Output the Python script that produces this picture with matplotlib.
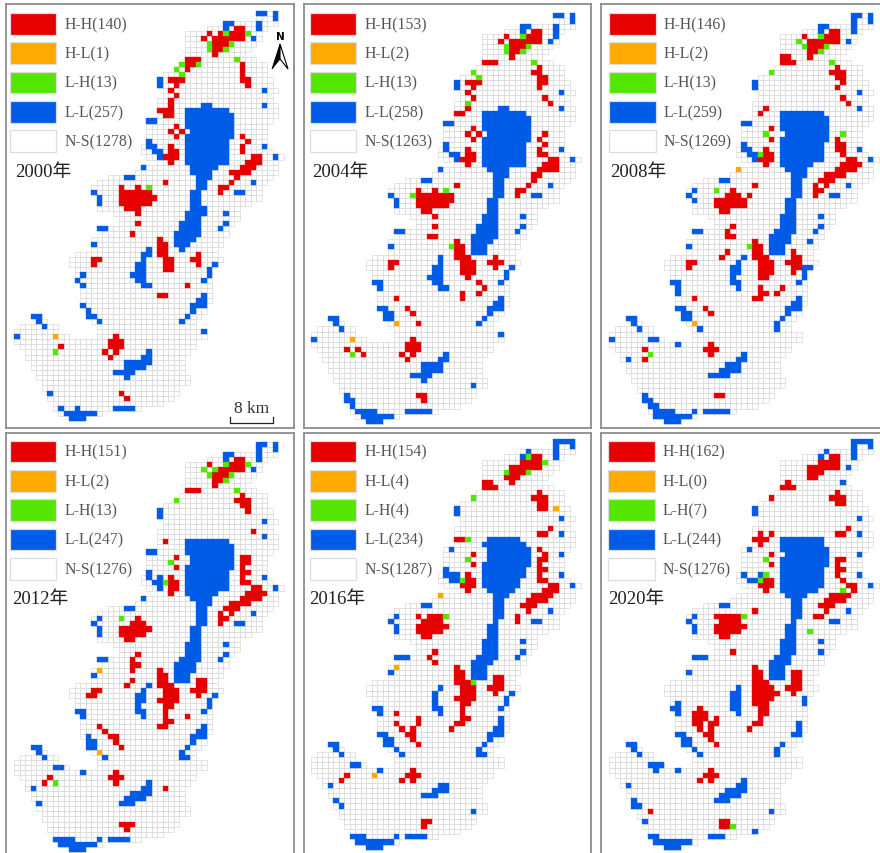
import matplotlib
matplotlib.use("Agg")
import matplotlib.pyplot as plt
from matplotlib.collections import PolyCollection
from matplotlib.patches import Rectangle, Polygon

# ---------- data: grid cells as (row, first column, last column) ----------
MASK = [(0,44,47),(1,44,47),(2,38,47),(3,35,45),(4,31,44),(5,31,44),(6,31,43),(7,31,42),(8,31,41),(9,31,43),
(10,30,45),(11,29,45),(12,27,45),(13,26,46),(14,26,46),(15,27,47),(16,27,46),(17,26,46),(18,26,47),(19,26,47),
(20,26,47),(21,24,46),(22,24,45),(23,24,45),(24,24,45),(25,24,45),(26,23,45),(27,23,46),(28,24,48),(29,26,47),
(30,23,47),(31,22,47),(32,17,46),(33,15,45),(34,14,44),(35,14,44),(36,15,44),(37,15,42),(38,15,40),(39,18,40),
(40,19,40),(41,19,39),(42,15,38),(43,16,38),(44,14,37),(45,14,37),(46,14,36),(47,11,36),(48,10,37),(49,10,36),
(50,11,35),(51,11,35),(52,11,35),(53,12,35),(54,12,35),(55,12,35),(56,12,35),(57,12,34),(58,13,34),(59,3,4),(59,13,33),
(60,4,5),(60,14,32),(61,1,7),(61,15,32),(62,0,7),(62,15,34),(63,0,9),(63,15,34),(64,0,32),(65,1,32),(66,2,31),
(67,2,30),(68,3,30),(69,3,30),(70,4,30),(71,4,31),(72,5,31),(73,5,29),(74,6,29),(75,6,28),(76,7,26),(77,7,22),
(78,8,15),(79,10,12)]

HH_2000 = [(3,40,41),(4,35,35),(4,37,37),(4,39,41),(5,34,34),(5,36,41),(6,36,38),(7,36,37),(8,36,36),(9,31,33),(10,31,32),(11,31,31),
(13,28,30),(14,29,29),(15,28,28),(16,29,29),(17,28,28),(18,28,28),(19,26,28),(20,27,28),(22,29,29),(23,28,28),(23,30,30),(24,29,29),
(26,28,28),(27,28,29),(28,27,29),(29,28,28),(10,41,41),(11,41,41),(12,41,41),(13,41,42),(14,42,42),(24,41,41),(25,42,42),(26,41,41),(27,41,41),
(28,43,44),(29,42,44),(30,41,43),(31,39,42),(32,40,40),(33,39,39),(34,37,38),(35,37,37),(33,27,27),
(34,19,19),(34,22,22),(35,19,24),(36,19,25),(37,19,24),(38,20,22),(39,22,22),(41,22,22),(43,21,21),
(44,26,26),(45,26,27),(46,26,27),(47,26,27),(48,27,28),(49,27,28),(50,27,28),(47,33,33),(48,32,33),(49,33,33),(48,14,15),(49,14,14),
(53,31,31),(55,26,27),(63,18,18),(64,17,19),(65,17,19),(66,16,16),(66,18,18),(67,17,17),(65,8,8),(74,19,19),(75,20,20)]
HL_2000 = [(63,7,7)]
LH_2000 = [(4,38,38),(4,42,42),(6,39,39),(7,38,38),(6,35,35),(7,35,35),(9,40,40),(10,30,30),(10,33,33),(11,29,29),(12,30,30),(34,24,24),(66,7,7)]
LL_2000 = [(0,44,45),(0,47,47),(1,47,47),(2,44,44),(3,44,44),(2,38,39),(3,38,38),(5,43,43),(13,26,26),(14,26,26),(15,45,45),(18,45,45),(21,24,25),
(18,34,35),(19,31,38),(20,31,39),(21,31,39),(22,31,39),(23,32,39),(24,31,39),(25,31,38),(26,31,38),(27,31,38),(28,31,38),(29,31,38),(30,32,36),(31,32,35),
(32,33,35),(33,33,34),(34,33,34),(35,32,33),(36,32,33),(37,32,33),(38,32,34),(39,31,34),(40,31,33),(41,30,33),(42,30,33),(43,29,33),(44,29,32),(45,29,31),(46,30,30),
(25,24,24),(26,24,25),(27,25,26),(28,26,26),(30,23,23),(32,20,21),(35,14,14),(36,15,15),(37,15,15),(35,40,41),(33,43,43),(28,47,47),(26,45,45),(39,38,38),(41,38,38),(42,37,37),
(42,15,16),(45,14,14),(46,24,24),(47,23,24),(48,23,23),(49,22,23),(50,22,23),(51,21,23),(52,22,23),(53,23,24),(49,36,36),(50,35,35),(51,35,35),(52,34,34),
(55,34,34),(56,33,34),(57,32,34),(58,32,32),(59,31,31),(60,30,30),(62,34,34),(51,12,12),(52,11,11),(53,12,12),(57,12,12),(58,13,13),(59,13,14),(60,15,15),
(59,3,4),(60,4,4),(61,5,5),(63,0,0),(66,24,24),(67,23,24),(68,20,24),(69,20,23),(70,18,21),(71,20,20),(74,6,6),(77,8,8),(77,11,11),(78,9,14),(79,10,12),(77,18,21)]

HH_2004 = [(3,40,41),(4,35,35),(4,39,41),(5,34,34),(5,36,41),(6,36,38),(7,36,37),(8,36,36),(9,31,33),(13,28,30),(14,29,29),(15,28,28),(16,29,29),(18,28,28),(19,26,27),
(22,29,29),(23,28,28),(23,30,30),(24,29,29),(26,28,28),(27,28,29),(28,27,29),(29,28,28),(10,41,41),(11,40,41),(12,41,42),(13,41,42),(14,41,41),(16,42,42),(17,43,43),
(23,42,42),(24,41,41),(25,42,42),(26,41,41),(27,41,42),(28,43,44),(29,42,44),(30,41,44),(31,40,41),(32,40,40),(33,39,39),(34,37,38),(35,37,37),(33,26,26),
(34,19,19),(34,22,22),(35,19,25),(36,19,25),(37,19,24),(38,20,21),(39,22,22),(41,22,22),(43,21,22),(44,26,26),(45,26,27),(46,26,27),(47,26,28),(48,27,29),(49,27,29),(50,27,29),(51,28,28),
(47,33,33),(48,32,34),(49,33,33),(48,14,15),(49,14,14),(52,30,30),(53,31,31),(54,30,30),(54,27,27),(55,27,27),(55,15,15),(57,17,17),(58,18,18),(60,19,19),
(63,18,18),(64,17,19),(65,17,19),(66,16,16),(66,18,18),(67,17,17),(65,6,6),(65,8,8),(66,9,9),(74,19,20),(75,20,20)]
HL_2004 = [(60,15,15),(63,7,7)]
LH_2004 = [(4,38,38),(6,39,39),(7,38,38),(6,35,35),(7,35,35),(9,40,40),(11,29,29),(12,30,30),(17,28,28),(35,18,18),(34,24,24),(45,25,25),(66,7,7)]
LL_2004 = [(0,44,45),(0,47,47),(1,47,47),(2,44,44),(3,44,44),(4,44,44),(5,43,43),(2,38,39),(3,38,38),(13,26,26),(14,26,26),(15,45,45),(18,45,45),(21,24,25),
(18,34,35),(19,31,38),(20,31,39),(21,31,39),(22,31,39),(23,32,39),(24,31,39),(25,31,38),(26,31,38),(27,31,38),(28,31,38),(29,31,38),(30,32,35),(31,33,35),(32,33,34),(33,33,34),(34,33,34),(35,33,34),
(36,32,33),(37,32,33),(38,32,33),(39,31,33),(40,31,33),(41,30,33),(42,30,33),(43,29,33),(44,29,32),(45,29,31),(46,29,31),
(25,24,24),(26,24,24),(27,25,26),(28,26,26),(30,23,23),(32,20,21),(35,14,14),(36,15,15),(37,15,15),(35,40,41),(33,43,43),(28,47,47),(26,45,45),(39,38,38),(41,38,38),(42,37,37),
(42,15,16),(45,14,14),(47,23,23),(48,23,23),(49,22,23),(50,22,23),(51,21,23),(52,22,23),(53,23,24),(49,36,36),(50,35,35),(51,35,35),(52,34,34),
(55,34,34),(56,33,34),(57,32,34),(58,32,32),(59,31,31),(60,30,30),(62,34,34),(52,11,12),(53,12,12),(57,12,13),(58,13,14),(59,13,14),
(59,3,4),(60,4,4),(61,5,5),(63,0,0),(66,24,24),(67,23,24),(68,20,23),(69,20,23),(70,18,21),(71,20,20),(72,29,29),(74,6,6),(75,6,7),(76,7,7),(77,8,11),(78,9,14),(79,10,12),(77,17,21)]

HH_2008 = [(3,40,41),(4,35,35),(4,39,41),(5,36,41),(6,36,38),(7,36,37),(8,36,36),(8,31,32),(9,31,33),(10,41,41),(11,40,42),(12,41,42),(13,42,42),(14,41,41),(16,42,42),(17,43,43),
(18,28,28),(19,27,27),(22,29,29),(24,29,29),(26,28,28),(27,28,29),(28,27,29),(29,28,28),(24,41,41),(25,41,42),(26,41,42),(27,42,42),(28,43,44),(29,42,45),(30,41,44),(31,39,42),(32,38,40),(33,39,39),(33,37,37),(34,37,38),(35,37,37),
(33,26,26),(35,25,25),(34,22,22),(35,21,23),(36,19,24),(37,19,24),(38,20,21),(41,22,22),(42,21,21),(43,21,22),
(44,26,26),(45,26,27),(46,26,27),(47,26,28),(48,27,29),(49,27,29),(50,27,29),(51,27,28),(46,33,33),(47,33,34),(48,32,34),(49,33,34),(50,33,33),
(46,21,21),(47,20,20),(48,14,15),(49,14,14),(55,15,15),(57,17,17),(58,18,18),(53,27,27),(54,27,28),(55,26,27),(53,31,31),(54,30,30),(65,6,6),(67,6,6),(64,18,18),(65,17,19),(66,18,18),(74,19,20)]
HL_2008 = [(60,15,15),(30,23,23)]
LH_2008 = [(4,38,38),(5,34,34),(6,35,35),(6,39,39),(7,38,38),(9,40,40),(11,29,29),(23,28,28),(23,42,42),(27,27,27),(34,19,19),(45,25,25),(66,7,7)]
LL_2008 = [(0,44,45),(0,47,47),(1,47,47),(1,44,44),(2,44,44),(3,44,44),(2,38,39),(3,38,38),(5,43,43),(13,26,26),(14,26,26),(15,45,45),(18,45,45),(21,24,25),
(19,31,38),(20,31,39),(21,31,39),(22,31,39),(23,32,39),(24,31,39),(25,31,38),(26,31,38),(27,31,38),(28,31,38),(29,31,36),(30,32,35),(31,33,35),(32,33,34),(33,33,34),(34,33,34),(35,33,34),
(36,32,33),(37,32,33),(38,32,33),(39,31,33),(40,31,33),(41,31,33),(42,30,33),(43,29,32),(44,29,32),(45,29,31),(46,29,31),
(25,24,24),(26,24,25),(27,25,26),(28,26,26),(32,20,21),(34,15,15),(35,14,14),(36,15,15),(35,40,41),(33,43,43),(28,47,47),(26,45,45),(39,38,38),(41,38,38),(42,37,37),(44,36,36),
(42,15,16),(45,14,14),(47,24,24),(48,23,23),(49,22,23),(50,22,23),(51,22,22),(52,22,23),(53,23,23),(49,35,36),(50,35,35),(51,35,35),(52,34,34),
(55,34,34),(56,33,34),(57,32,34),(58,32,32),(59,31,31),(60,30,30),(61,30,30),(52,11,12),(53,12,12),(54,12,12),(57,12,13),(58,13,14),(59,13,14),(61,16,16),
(59,3,4),(60,4,4),(61,5,5),(63,0,0),(63,7,8),(64,12,12),(67,3,3),(66,24,24),(67,23,24),(68,21,23),(69,20,23),(70,18,21),(74,6,6),(75,6,7),(76,7,8),(77,8,11),(77,15,15),(78,8,14),(79,10,12),(77,17,21)]

HH_2012 = [(3,40,41),(4,35,35),(4,39,41),(5,37,41),(6,36,38),(7,36,37),(8,36,36),(9,31,33),(10,41,41),(11,40,42),(12,41,42),(13,42,42),(17,43,43),(19,27,27),(22,29,29),(24,29,29),
(26,28,28),(27,28,29),(28,28,29),(29,28,28),(22,41,42),(23,41,42),(24,41,41),(25,41,42),(26,41,41),(27,41,42),(28,43,44),(29,42,45),(30,41,44),(31,39,42),(32,38,40),(33,39,39),(33,37,37),(34,37,38),(35,37,37),
(34,22,22),(35,21,23),(36,19,24),(37,19,23),(38,20,21),(41,22,22),(42,21,21),(43,21,22),(44,21,21),(44,26,26),(45,26,27),(46,26,27),(47,26,28),(48,27,29),(49,27,29),(50,26,29),(51,27,28),(52,27,27),(53,27,27),(54,27,28),(55,26,27),
(46,33,34),(47,33,34),(48,32,34),(49,33,33),(48,14,15),(49,13,14),(46,21,21),(47,20,20),(53,31,31),(55,15,15),(56,16,16),(57,17,18),(58,18,18),(59,19,19),(65,6,6),(66,5,5),
(64,18,18),(65,17,19),(66,18,18),(67,27,27),(74,19,21),(75,20,20)]
HL_2012 = [(44,15,15),(60,15,15)]
LH_2012 = [(5,36,36),(5,34,34),(6,35,35),(6,39,39),(7,38,38),(4,38,38),(4,42,42),(9,40,40),(11,29,29),(23,28,28),(27,27,27),(34,19,19),(66,7,7)]
LL_2012 = [(0,44,45),(0,47,47),(1,47,47),(1,44,44),(2,44,44),(3,44,44),(2,38,39),(3,38,38),(5,43,43),(13,26,26),(14,26,26),(15,45,45),(18,45,45),(21,24,25),
(19,31,38),(20,31,39),(21,31,39),(22,32,39),(23,32,39),(24,31,39),(25,31,38),(26,31,38),(27,31,38),(28,31,38),(29,31,36),(30,32,35),(31,33,35),(32,33,34),(33,33,34),(34,33,34),(35,33,34),
(36,32,33),(37,32,33),(38,32,33),(39,31,33),(40,31,33),(41,31,33),(42,30,33),(43,29,32),(44,29,32),(45,29,31),(46,29,31),
(25,24,24),(26,24,24),(26,26,26),(27,25,26),(28,26,26),(30,23,23),(32,20,21),(34,15,15),(35,14,14),(36,15,15),(37,15,15),(35,40,41),(33,43,43),(28,47,47),(26,45,45),(39,38,38),(41,38,38),(42,37,37),
(42,15,16),(45,14,14),(47,24,24),(48,23,23),(49,22,23),(50,22,23),(51,22,22),(52,22,23),(53,23,23),(49,36,36),(50,35,35),(51,35,35),(52,34,34),
(55,34,34),(56,33,34),(57,32,34),(58,32,32),(59,31,31),(60,30,30),(61,30,31),(52,11,12),(53,12,12),(57,13,13),(58,13,14),(59,13,14),(61,16,16),
(59,3,4),(60,4,4),(61,5,5),(63,7,8),(64,12,12),(67,3,3),(70,4,4),(66,24,24),(67,23,24),(68,21,24),(69,20,23),(70,19,21),(77,7,10),(77,15,15),(78,8,14),(79,10,12),(77,17,20)]

HH_2016 = [(3,40,41),(4,38,41),(5,36,41),(6,36,38),(7,35,37),(8,36,36),(8,31,32),(9,31,33),(10,41,41),(11,40,42),(12,41,42),(13,41,42),(17,43,43),(18,41,42),(19,26,27),
(21,41,41),(22,42,42),(23,41,42),(24,41,41),(25,41,42),(26,41,41),(27,41,42),(22,29,29),(24,29,29),(26,28,28),(27,28,29),(28,27,29),(29,28,28),
(28,43,44),(29,42,44),(30,40,43),(31,39,42),(32,38,40),(33,39,39),(34,37,37),(35,37,37),(34,19,19),(34,21,23),(35,20,23),(36,19,24),(37,19,23),(38,20,21),
(41,22,22),(42,21,21),(43,22,22),(44,26,26),(45,26,27),(46,26,27),(47,26,28),(48,27,29),(49,27,29),(50,26,29),(51,27,28),(52,27,27),(53,27,27),(54,27,28),(55,26,27),(56,25,25),
(46,33,34),(47,33,34),(48,32,34),(49,33,33),(53,15,15),(55,15,15),(56,16,16),(57,17,18),(58,18,18),(59,19,19),(54,19,19),(55,19,19),(56,18,18),(65,6,6),(66,5,5),
(64,18,18),(65,17,19),(66,16,16),(66,18,18),(74,20,21),(75,20,20)]
HL_2016 = [(13,44,44),(30,23,23),(44,15,15),(65,11,11)]
LH_2016 = [(3,39,39),(4,42,42),(6,35,35),(6,39,39),(11,29,29),(19,28,28),(23,28,28),(27,27,27),(34,24,24),(47,29,29)]
LL_2016 = [(0,44,47),(1,44,44),(2,44,44),(3,44,44),(1,47,47),(2,39,39),(3,38,38),(13,26,26),(14,26,26),(15,45,45),(18,45,45),(22,45,45),(26,45,45),(28,47,47),(21,25,25),
(19,32,37),(20,31,38),(21,32,39),(22,32,39),(23,32,39),(24,31,39),(25,31,38),(26,31,38),(27,31,37),(28,31,37),(29,32,36),(30,33,35),(31,33,34),(32,33,34),(33,33,34),(34,33,34),(35,33,33),
(36,32,33),(37,32,33),(38,32,33),(39,31,33),(40,31,33),(41,31,33),(42,30,33),(43,29,32),(44,29,31),(45,29,31),(46,29,31),
(25,24,24),(26,24,26),(27,25,26),(32,20,21),(34,15,15),(35,14,14),(36,15,15),(37,15,15),(35,40,41),(33,43,43),(39,38,38),(41,38,38),(42,37,37),
(42,15,17),(45,14,14),(48,23,23),(49,22,22),(50,22,22),(51,22,22),(52,22,23),(53,23,23),(49,36,36),(50,35,35),(51,35,35),(52,34,34),
(54,34,34),(55,34,34),(56,33,34),(57,33,34),(57,32,32),(58,32,32),(59,31,31),(60,30,30),(61,30,31),(52,11,12),(53,12,12),(57,12,13),(58,13,14),(59,13,14),(60,15,15),(61,16,16),
(59,3,4),(60,4,4),(61,5,5),(63,7,8),(64,12,12),(67,3,3),(70,4,4),(71,5,5),(67,23,24),(68,22,24),(69,20,22),(72,29,29),(77,7,9),(77,15,15),(78,8,14),(79,10,12),(77,17,20)]

HH_2020 = [(3,40,41),(4,38,41),(5,36,41),(6,36,38),(7,36,37),(8,32,32),(9,31,33),(11,29,29),(10,41,41),(11,40,42),(12,41,42),(17,43,43),(18,41,42),(18,29,29),(18,27,27),(19,26,28),(20,27,27),(22,29,29),(24,29,29),
(23,41,42),(24,41,41),(25,41,42),(26,41,41),(27,42,42),(28,43,44),(29,44,44),(27,28,29),(28,27,29),(29,28,28),(30,40,43),(31,39,42),(32,38,40),(33,39,39),(34,37,38),(33,26,26),
(34,19,23),(35,20,23),(36,19,24),(37,19,23),(38,20,21),(41,22,22),(44,26,26),(45,26,27),(46,26,27),(47,26,28),(48,26,29),(49,26,30),(50,26,29),(51,26,28),(52,27,28),(53,27,28),(54,27,27),(55,26,27),(56,25,25),
(45,33,34),(46,33,34),(47,33,34),(48,32,34),(49,33,33),(52,16,16),(53,15,17),(54,15,17),(55,15,16),(56,16,16),(54,19,19),(55,18,19),(56,18,18),(57,17,18),(58,18,18),(59,19,19),
(64,18,18),(65,17,19),(66,16,16),(66,18,18),(72,7,7),(74,20,21),(75,20,21)]
HL_2020 = []
LH_2020 = [(29,42,42),(26,28,28),(27,27,27),(23,28,28),(34,24,24),(37,36,36),(75,22,22)]
LL_2020 = [(0,44,47),(1,44,44),(2,44,44),(3,44,44),(1,47,47),(2,39,39),(3,38,38),(5,43,43),(8,42,42),(13,26,26),(14,26,26),(15,45,45),(18,45,45),(22,45,45),(26,45,45),(28,47,47),(21,25,25),
(19,31,38),(20,31,38),(21,31,39),(22,32,39),(23,31,39),(24,31,39),(25,31,38),(26,31,38),(27,31,38),(28,31,38),(29,31,37),(30,32,35),(31,33,34),(32,33,34),(33,33,34),(34,33,34),(35,33,33),
(36,32,33),(37,32,33),(38,32,33),(39,31,33),(40,31,33),(41,31,33),(42,30,32),(43,29,32),(44,29,31),(45,29,31),(46,29,31),
(26,24,24),(26,27,27),(27,25,26),(32,20,21),(34,15,15),(35,14,14),(36,15,15),(37,15,15),(35,40,41),(33,43,43),(39,38,38),(41,38,38),
(42,15,17),(45,14,14),(48,23,23),(49,22,23),(50,22,23),(51,22,23),(52,22,23),(53,23,23),(50,35,35),(51,35,35),(55,34,34),(56,34,34),(57,33,34),(59,31,31),(60,30,30),(61,30,30),
(51,12,12),(52,11,12),(53,12,12),(57,12,13),(58,13,14),(59,13,14),(60,15,15),(61,16,16),(59,3,4),(60,4,4),(61,5,5),(63,7,9),(64,8,8),(64,12,12),(67,3,3),(70,4,4),(71,4,5),(74,6,6),(76,26,26),
(66,24,24),(67,23,24),(68,21,24),(69,20,23),(70,19,21),(72,29,29),(77,7,8),(78,8,14),(79,10,12),(77,18,20)]

YEARS = ["2000", "2004", "2008", "2012", "2016", "2020"]
HH = [HH_2000, HH_2004, HH_2008, HH_2012, HH_2016, HH_2020]
HL = [HL_2000, HL_2004, HL_2008, HL_2012, HL_2016, HL_2020]
LH = [LH_2000, LH_2004, LH_2008, LH_2012, LH_2016, LH_2020]
LL = [LL_2000, LL_2004, LL_2008, LL_2012, LL_2016, LL_2020]
CLASS_NAMES = ["H-H", "H-L", "L-H", "L-L", "N-S"]
COUNTS = [[140, 1, 13, 257, 1278], [153, 2, 13, 258, 1263], [146, 2, 13, 259, 1269],
          [151, 2, 13, 247, 1276], [154, 4, 4, 234, 1287], [162, 0, 7, 244, 1276]]

# ---------- styles / layout (pixels) ----------
W, H = 880, 854
COLORS = {"HH": "#E60000", "HL": "#FFAA00", "LH": "#55E600", "LL": "#005CE6"}
GRID = "#d4d4d4"
CW, CH = 5.5, 5.133
FRAMES = [(6, 5, 294, 429), (303.5, 5, 590.5, 429), (600.5, 5, 890, 429),
          (6, 434, 294, 864), (303.5, 434, 590.5, 864), (600.5, 434, 890, 864)]
ORIGIN = [(14.33, 11.67), (311.33, 14.33), (609, 14.33), (14.33, 442.67), (311.33, 440), (609, 440)]
LEG = [(9.7, 14), (309.7, 14), (609, 14), (9.7, 441.7), (309.7, 441.7), (608, 441.7)]
YEARPOS = [(15, 172), (312, 172), (610.5, 172), (12.5, 600), (309.5, 600), (608, 600)]
SERIF = ["Liberation Serif", "Noto Sans CJK SC"]

fig = plt.figure(figsize=(W / 100, H / 100), dpi=100, facecolor="white")


def cells(runs):
    out = []
    for r, a, b in runs:
        out.extend((r, c) for c in range(a, b + 1))
    return out


def polys(cs):
    return [[(c, r), (c + 1, r), (c + 1, r + 1), (c, r + 1)] for r, c in cs]


for i in range(6):
    x0, y0, x1, y1 = FRAMES[i]
    ox, oy = ORIGIN[i]
    ax = fig.add_axes([x0 / W, 1 - y1 / H, (x1 - x0) / W, (y1 - y0) / H])
    ax.set_xlim((x0 - ox) / CW, (x1 - ox) / CW)
    ax.set_ylim((y1 - oy) / CH, (y0 - oy) / CH)
    ax.set_xticks([])
    ax.set_yticks([])
    for s in ax.spines.values():
        s.set_color("#8c8c8c")
        s.set_linewidth(1.3)
    classes = {"HH": cells(HH[i]), "HL": cells(HL[i]), "LH": cells(LH[i]), "LL": cells(LL[i])}
    allc = set(cells(MASK))
    for v in classes.values():
        allc |= set(v)
    ax.add_collection(PolyCollection(polys(sorted(allc)), facecolors="white", edgecolors=GRID, linewidths=0.45, zorder=1))
    for z, k in enumerate(["LL", "HH", "HL", "LH"]):
        if classes[k]:
            ax.add_collection(PolyCollection(polys(classes[k]), facecolors=COLORS[k], edgecolors=COLORS[k],
                                             linewidths=0.25, zorder=2 + z))

# overlay in pixel coordinates for legends, year labels, compass and scale bar
ov = fig.add_axes([0, 0, 1, 1], facecolor="none")
ov.set_xlim(0, W)
ov.set_ylim(H, 0)
ov.axis("off")
fill = [COLORS["HH"], COLORS["HL"], COLORS["LH"], COLORS["LL"], "white"]
for i in range(6):
    lx, ly = LEG[i]
    for j in range(5):
        y = ly + j * 29.33
        ov.add_patch(Rectangle((lx, y), 46.5, 21.7, facecolor=fill[j],
                               edgecolor="#dddddd", linewidth=0.9))
        ov.text(lx + 54.6, y + 11, f"{CLASS_NAMES[j]}({COUNTS[i][j]})", family=SERIF, fontsize=11.4,
                color="#555555", va="center", ha="left")
    yx, yy = YEARPOS[i]
    ov.text(yx, yy, YEARS[i] + "年", family=SERIF, fontsize=13.5, color="#222222", va="center", ha="left")

# north arrow
ov.text(280, 37.5, "N", family="DejaVu Sans", fontsize=7.5, fontweight="bold", ha="center", va="center", color="black")
ov.add_patch(Polygon([(280, 45), (272, 70), (280, 60)], closed=True, facecolor="black", edgecolor="black", linewidth=0.6))
ov.add_patch(Polygon([(280, 45), (288, 70), (280, 60)], closed=True, facecolor="white", edgecolor="black", linewidth=0.8))

# scale bar
ov.plot([229.7, 229.7, 273.3, 273.3], [417.7, 424.3, 424.3, 417.7], color="#222222", lw=0.9)
ov.text(251.5, 409, "8 km", family="Liberation Serif", fontsize=12.5, color="#333333", ha="center", va="center")

fig.savefig("out.png", dpi=100)
